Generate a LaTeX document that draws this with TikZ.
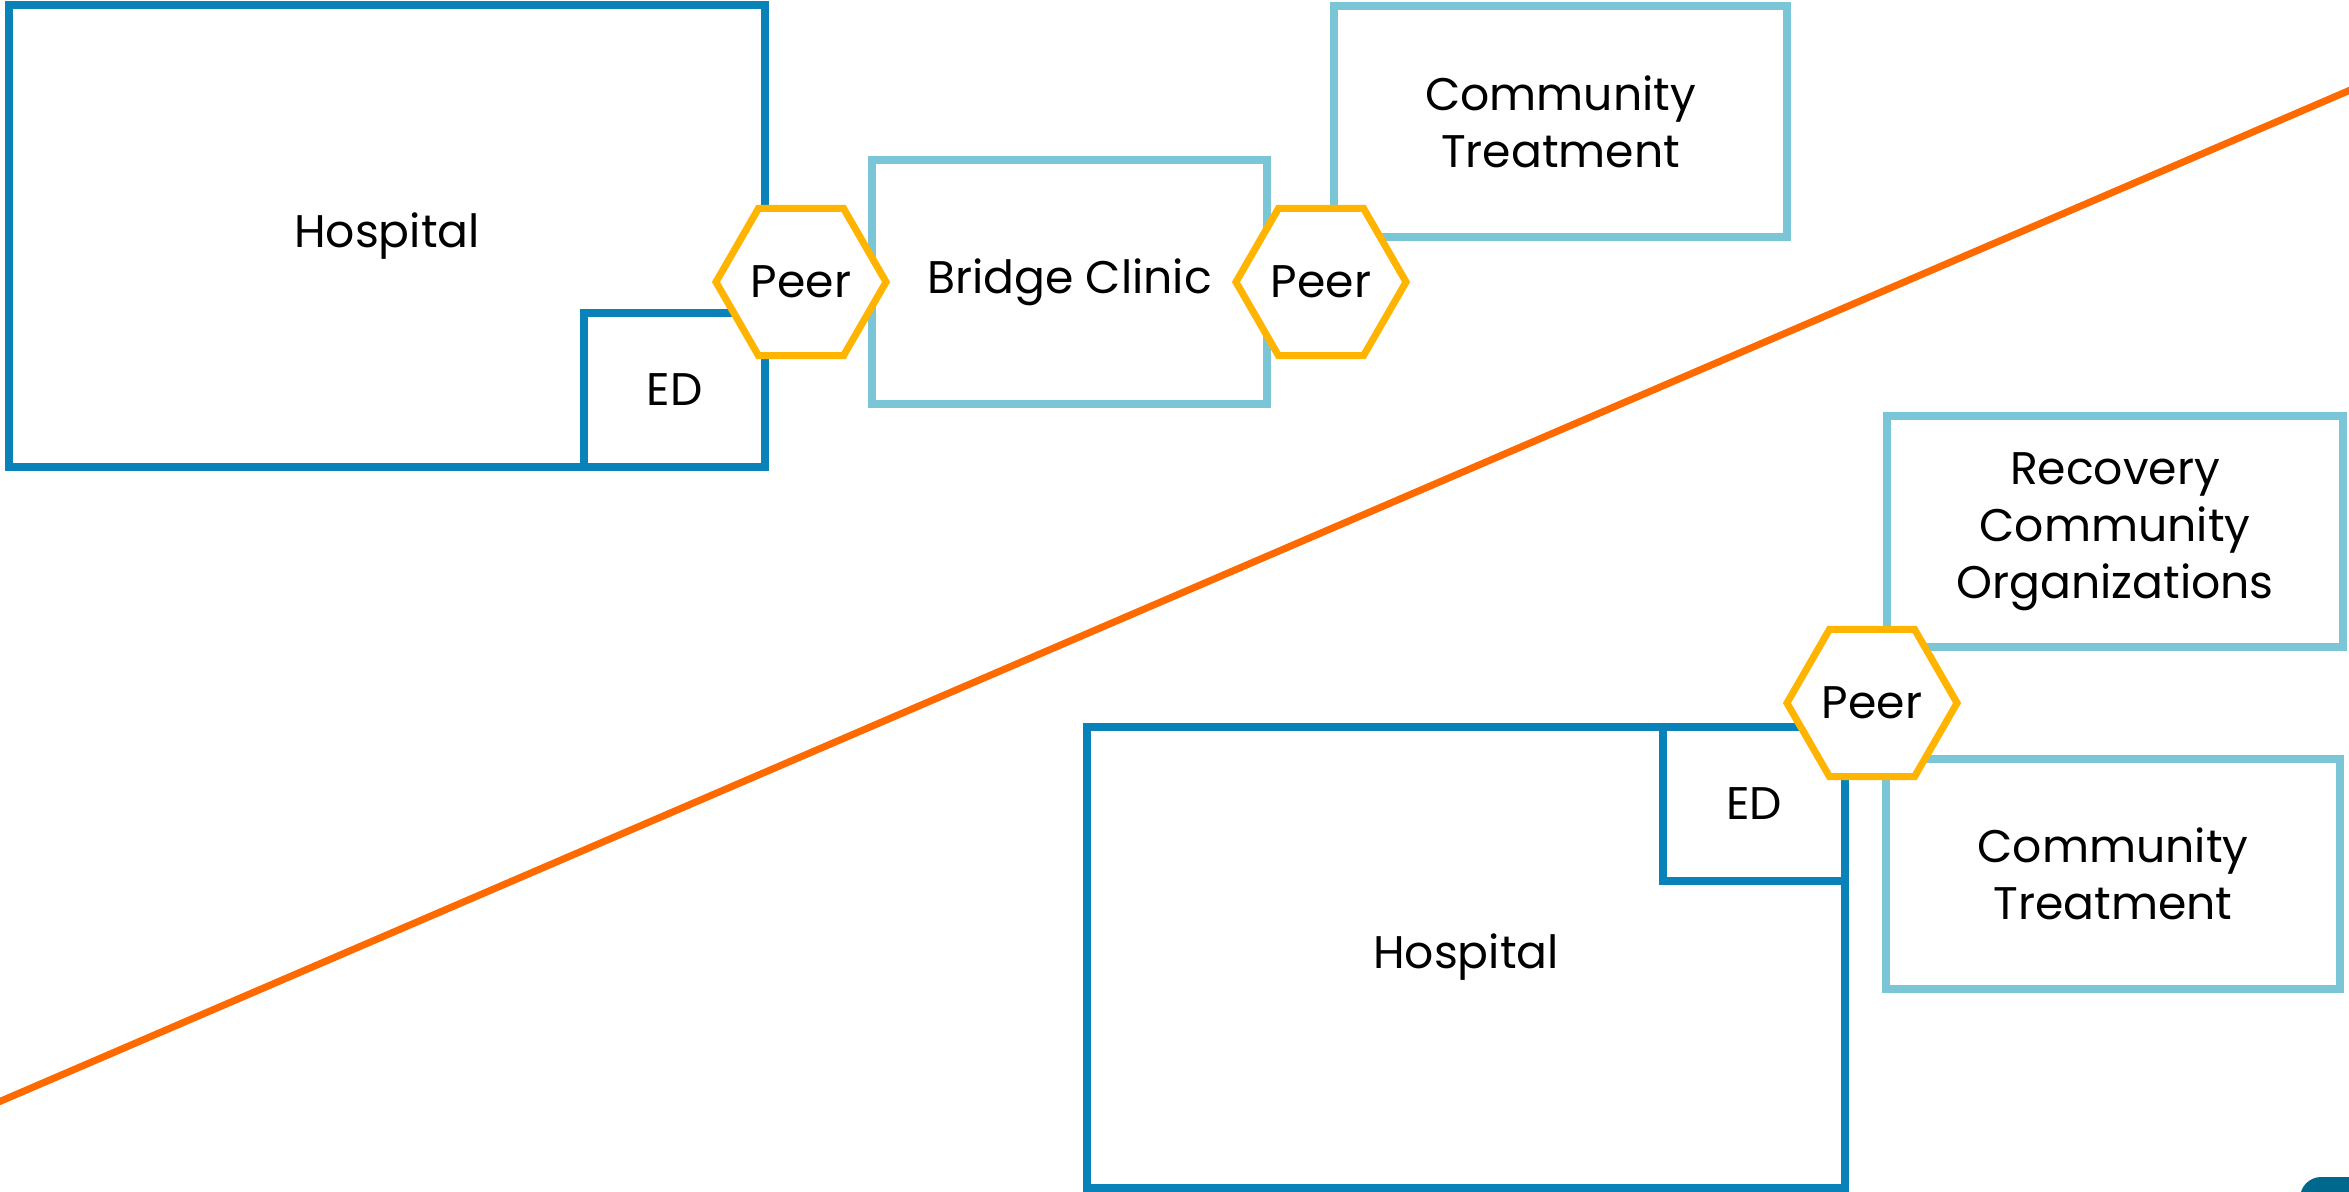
\documentclass[tikz,border=0pt]{standalone}
\usepackage{fontspec}
\setmainfont{Poppins}
\usepackage{xcolor}
\usepackage{tikz}
\usetikzlibrary{shapes}
\usetikzlibrary{shapes.geometric}
\definecolor{hospblue}{RGB}{8,130,185}
\definecolor{careblue}{RGB}{122,198,214}
\definecolor{peeryellow}{RGB}{255,180,0}
\definecolor{splitorange}{RGB}{255,106,0}
\definecolor{logoteal}{RGB}{0,104,140}
\tikzset{
    hospnode/.style = {rectangle, draw=hospblue, fill=white, line width=2.2pt, align=center, inner sep=0pt},
    carenode/.style = {rectangle, draw=careblue, fill=white, line width=2.2pt, align=center, inner sep=0pt},
    peernode/.style = {regular polygon, regular polygon sides=6, draw=peeryellow, fill=white, line width=2pt, inner sep=0pt, minimum size=1.70cm},
}

\begin{document}
\begin{tikzpicture}[
	x=0.01cm,
	y=-0.01cm,
	font=\fontsize{13}{16.2}\selectfont
]
\useasboundingbox (0,0) rectangle (2349,1191);
\clip (0,0) rectangle (2349,1191);
%
\coordinate (s1) at (-20,1110);
\coordinate (s2) at (2369,82);
\draw[splitorange, line width=2pt] (s1) -- (s2);
%
\node[hospnode, minimum width=7.56cm, minimum height=4.62cm] at (387,236) (hosp1) {Hospital};
\node[hospnode, minimum width=1.81cm, minimum height=1.54cm] at (674.5,390) (ed1) {ED};
\node[carenode, minimum width=3.95cm, minimum height=2.44cm] at (1069.5,282) (bridge) {Bridge Clinic};
\node[carenode, minimum width=4.53cm, minimum height=2.31cm] at (1560.5,121.5) (comm1) {Community\\Treatment};
\node[peernode] at (801,282) (peer1) {Peer};
\node[peernode] at (1321,282) (peer2) {Peer};
%
\node[hospnode, minimum width=7.58cm, minimum height=4.61cm] at (1466,957.5) (hosp2) {Hospital};
\node[hospnode, minimum width=1.82cm, minimum height=1.54cm] at (1754,804) (ed2) {ED};
\node[carenode, minimum width=4.56cm, minimum height=2.31cm] at (2115,531.5) (rco) {Recovery\\Community\\Organizations};
\node[carenode, minimum width=4.54cm, minimum height=2.30cm] at (2113,874) (comm2) {Community\\Treatment};
\node[peernode] at (1872,703) (peer3) {Peer};
%
\fill[logoteal, rounded corners=6] (2300,1177) rectangle (2400,1230);
\end{tikzpicture}
\end{document}
